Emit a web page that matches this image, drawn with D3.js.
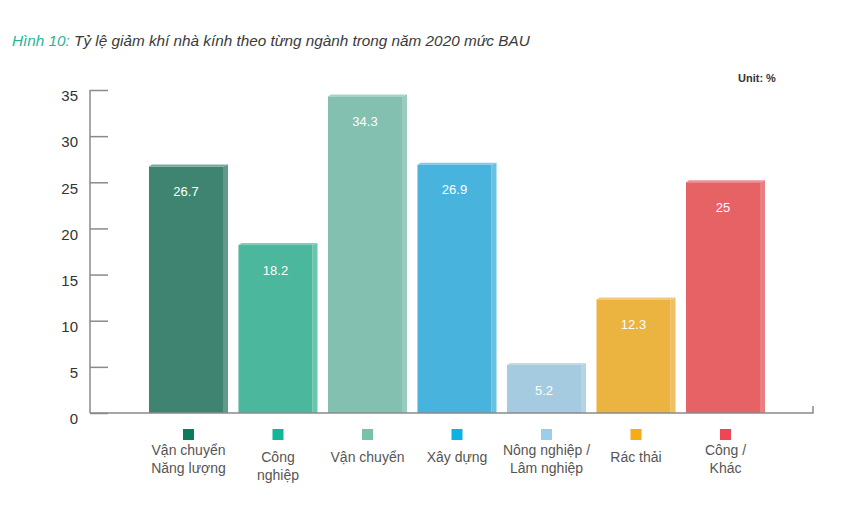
<!DOCTYPE html>
<html>
<head>
<meta charset="utf-8">
<script src="https://cdn.jsdelivr.net/npm/d3@7"></script>
<style>
  body { margin: 0; background: #fff; }
  text { font-family: "Liberation Sans", Arial, sans-serif; }
</style>
</head>
<body>
<script>
/* data */
var categories = ['Vận chuyển\nNăng lượng', 'Công\nnghiệp', 'Vận chuyển', 'Xây dựng',
    'Nông nghiệp /\nLâm nghiệp', 'Rác thải', 'Công /\nKhác']
var values = [26.7, 18.2, 34.3, 26.9, 5.2, 12.3, 25]
var barColors = ['#3e8470', '#4bb79c', '#83c0b0', '#48b3dc', '#a4cbdf', '#ebb33f', '#e66265']
var legendColors = ['#0c7a5e', '#12b797', '#77c2ad', '#0db2e5', '#99cfe9', '#f6ab18', '#ef4656']
var yTicks = [0, 5, 10, 15, 20, 25, 30, 35]

/* setup */
var width = 860
var height = 512
var side = 5

var svg = d3.select('body').append('svg')
    .attr('width', width)
    .attr('height', height)

var x = d3.scaleBand()
    .domain(d3.range(categories.length))
    .range([138.5, 775.5])
    .padding(0.117)

var y = d3.scaleLinear()
    .domain([0, 35])
    .range([413, 90])

/* title */
var title = svg.append('text')
    .attr('x', 12)
    .attr('y', 46)
    .style('font-size', '15.3px')
    .style('font-style', 'italic')
title.append('tspan').attr('fill', '#27b597').text('Hình 10: ')
title.append('tspan').attr('fill', '#3a3a3a').text('Tỷ lệ giảm khí nhà kính theo từng ngành trong năm 2020 mức BAU')

svg.append('text')
    .attr('x', 738)
    .attr('y', 82)
    .attr('fill', '#333')
    .style('font-size', '11px')
    .style('font-weight', 'bold')
    .text('Unit: %')

/* y axis */
var gy = svg.append('g').attr('transform', 'translate(90,0)')
gy.call(d3.axisRight(y).tickValues(yTicks).tickSize(18).tickFormat(''))
gy.select('.domain').remove()
gy.selectAll('line').attr('stroke', '#8a8a8a').attr('stroke-width', 1.5)
gy.append('line')
    .attr('y1', y(35)).attr('y2', y(0))
    .attr('stroke', '#8a8a8a').attr('stroke-width', 1.5)
gy.selectAll('text.lab').data(yTicks).enter().append('text')
    .attr('class', 'lab')
    .attr('x', -12)
    .attr('y', function(d) { return y(d) + 6 })
    .attr('dy', '0.35em')
    .attr('text-anchor', 'end')
    .attr('fill', '#333')
    .style('font-size', '15px')
    .text(function(d) { return d })

/* bars */
var g_bars = svg.append('g')
var bar = g_bars.selectAll('g').data(values).enter().append('g')

function frontW() { return x.bandwidth() - side }

bar.append('polygon')
    .attr('points', function(d, i) {
        var x0 = x(i) + frontW(), t = y(d)
        return [[x0, t], [x0 + side, t - 2], [x0 + side, y(0)], [x0, y(0)]].join(' ')
    })
    .attr('fill', function(d, i) { return d3.interpolateRgb(barColors[i], '#fff')(0.18) })

bar.append('polygon')
    .attr('points', function(d, i) {
        var x0 = x(i), t = y(d)
        return [[x0, t], [x0 + 3, t - 2], [x0 + frontW() + side, t - 2], [x0 + frontW(), t]].join(' ')
    })
    .attr('fill', function(d, i) { return d3.interpolateRgb(barColors[i], '#fff')(0.3) })

bar.append('rect')
    .attr('x', function(d, i) { return x(i) })
    .attr('y', function(d) { return y(d) })
    .attr('width', frontW())
    .attr('height', function(d) { return y(0) - y(d) })
    .attr('fill', function(d, i) { return barColors[i] })

bar.append('text')
    .attr('x', function(d, i) { return x(i) + frontW() / 2 })
    .attr('y', function(d) { return y(d) + 25 })
    .attr('dy', '0.35em')
    .attr('text-anchor', 'middle')
    .attr('fill', '#fff')
    .style('font-size', '13px')
    .text(function(d) { return d })

/* x axis */
svg.append('path')
    .attr('d', 'M90,' + y(0) + 'H813V' + (y(0) - 7))
    .attr('fill', 'none')
    .attr('stroke', '#8a8a8a')
    .attr('stroke-width', 1.5)

/* legend */
var legend = svg.append('g').selectAll('g').data(categories).enter().append('g')
    .attr('transform', function(d, i) { return 'translate(' + (x(i) + x.bandwidth() / 2) + ',0)' })

legend.append('rect')
    .attr('x', -5.5)
    .attr('y', 429)
    .attr('width', 11)
    .attr('height', 11)
    .attr('fill', function(d, i) { return legendColors[i] })

legend.each(function(d) {
    var lines = d.split('\n')
    var top = (lines.length === 1 || lines[0] === 'Công') ? 457 : 450
    d3.select(this).selectAll('text').data(lines).enter().append('text')
        .attr('y', function(l, j) { return top + j * 18 })
        .attr('dy', '0.35em')
        .attr('text-anchor', 'middle')
        .attr('fill', '#555')
        .style('font-size', '14px')
        .text(function(l) { return l })
})
</script>
</body>
</html>
